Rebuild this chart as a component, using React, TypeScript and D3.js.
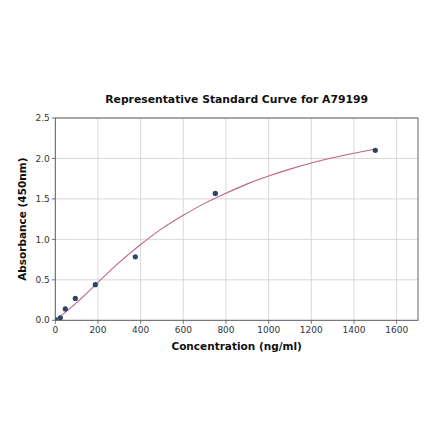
import React from 'react';
import * as d3 from 'd3';

// standard points (ng/ml, OD450)
const concentrations = [0, 23.44, 46.88, 93.75, 187.5, 375, 750, 1500];
const absorbances = [0.01, 0.03, 0.14, 0.27, 0.44, 0.785, 1.568, 2.1];

// fitted curve
const curveX = [0, 100, 200, 300, 400, 500, 600, 700, 800, 900, 1000, 1100, 1200, 1300, 1400, 1500];
const curveY = [0.0, 0.21, 0.47, 0.72, 0.94, 1.14, 1.3, 1.45, 1.57, 1.69, 1.785, 1.87, 1.945, 2.01, 2.065, 2.115];

const xTicks = [0, 200, 400, 600, 800, 1000, 1200, 1400, 1600];
const yTicks = [0, 0.5, 1.0, 1.5, 2.0, 2.5];

const W = 440;
const H = 441;
const margin = { top: 118, right: 22, bottom: 120.7, left: 55.3 };

const App: React.FC = () => {
  const innerW = W - margin.left - margin.right;
  const innerH = H - margin.top - margin.bottom;

  const x = d3.scaleLinear().domain([0, 1700]).range([0, innerW]);
  const y = d3.scaleLinear().domain([0, 2.5]).range([innerH, 0]);

  const line = d3.line<number>()
    .x((_, i) => x(curveX[i]))
    .y(d => y(d))
    .curve(d3.curveBasis);

  const font = 'DejaVu Sans, sans-serif';
  const axisColor = '#555';

  return (
    <svg width={W} height={H} style={{ position: 'absolute', left: 0, top: 0, background: 'white' }}>
      <text x={margin.left + innerW / 2} y={102.8} textAnchor="middle"
        style={{ fontFamily: font, fontSize: 10.8, fontWeight: 'bold', fill: '#111' }}>
        Representative Standard Curve for A79199
      </text>
      <defs>
        <clipPath id="plot-clip">
          <rect x={0} y={0} width={innerW} height={innerH} />
        </clipPath>
      </defs>
      <g transform={`translate(${margin.left},${margin.top})`}>
        {/* grid */}
        {xTicks.map(t => (
          <line key={'gx' + t} x1={x(t)} x2={x(t)} y1={0} y2={innerH} stroke="#cfcfcf" strokeWidth={0.8} />
        ))}
        {yTicks.map(t => (
          <line key={'gy' + t} x1={0} x2={innerW} y1={y(t)} y2={y(t)} stroke="#cfcfcf" strokeWidth={0.8} />
        ))}

        <g clipPath="url(#plot-clip)">
          <path d={line(curveY) || ''} fill="none" stroke="#c06482" strokeWidth={1.1} />
          {concentrations.map((c, i) => (
            <circle key={'p' + i} cx={x(c)} cy={y(absorbances[i])} r={2.6} fill="#2b4566" />
          ))}
        </g>

        {/* frame */}
        <rect x={0} y={0} width={innerW} height={innerH} fill="none" stroke={axisColor} strokeWidth={0.9} />

        {/* x ticks */}
        {xTicks.map(t => (
          <g key={'tx' + t} transform={`translate(${x(t)},${innerH})`}>
            <line y1={0} y2={3.5} stroke={axisColor} strokeWidth={0.8} />
            <text y={12.8} textAnchor="middle" style={{ fontFamily: font, fontSize: 9, fill: '#333' }}>{t}</text>
          </g>
        ))}
        {/* y ticks */}
        {yTicks.map(t => (
          <g key={'ty' + t} transform={`translate(0,${y(t)})`}>
            <line x1={0} x2={-3.5} stroke={axisColor} strokeWidth={0.8} />
            <text x={-5.5} dy="0.35em" textAnchor="end" style={{ fontFamily: font, fontSize: 9, fill: '#333' }}>{t.toFixed(1)}</text>
          </g>
        ))}
      </g>

      <text x={margin.left + innerW / 2} y={350} textAnchor="middle"
        style={{ fontFamily: font, fontSize: 10.5, fontWeight: 'bold', fill: '#111' }}>
        Concentration (ng/ml)
      </text>
      <text transform={`translate(26,${margin.top + innerH / 2}) rotate(-90)`} textAnchor="middle"
        style={{ fontFamily: font, fontSize: 10.5, fontWeight: 'bold', fill: '#111' }}>
        Absorbance (450nm)
      </text>
    </svg>
  );
};

export default App;
